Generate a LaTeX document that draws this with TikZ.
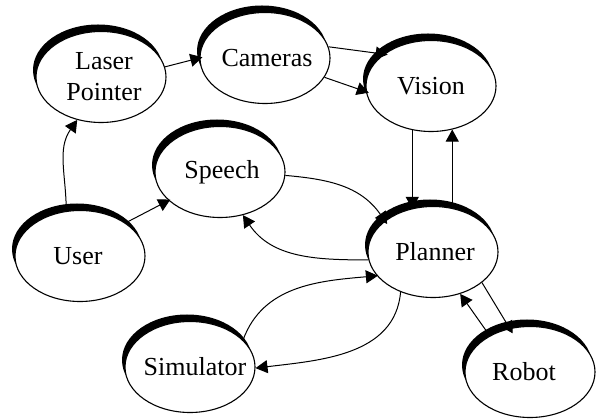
\documentclass[tikz,border=0pt]{standalone}
\usepackage{fontspec}
\setmainfont{Liberation Serif}
\usetikzlibrary{arrows.meta,shapes.geometric,shadows}
\begin{document}
\begin{tikzpicture}[x=1pt,y=-1pt,
  state/.style={ellipse, draw, line width=1.1pt, fill=white,
    minimum width=130pt, minimum height=91pt, inner sep=0pt,
    general shadow={fill=black, shadow xshift=-3pt, shadow yshift=7pt}},
  tag/.style={font=\fontsize{26}{31}\selectfont, align=center},
  link/.style={line width=1pt, -{Triangle[length=12pt,width=13pt]}},
  reach/.style={shorten >=-#1}]
\useasboundingbox (0,0) rectangle (597,419);

% modules
\node[state, label={[tag,xshift=3pt]center:Laser\\Pointer}] (lp) at (101,77) {};
\node[state, label={[tag,xshift=2pt]center:Cameras}] (cam)  at (265,58)  {};
\node[state, label={[tag]center:Vision}]             (vis)  at (431,86)  {};
\node[state, label={[tag,xshift=2pt]center:Speech}]  (sp)   at (220,172) {};
\node[state, label={[tag,xshift=-2pt]center:User}]   (user) at (80,256)  {};
\node[state, label={[tag,xshift=2pt]center:Planner}] (pl)   at (433,252) {};
\node[state, label={[tag,xshift=5pt]center:Simulator}] (sim) at (190,367) {};
\node[state, label={[tag,xshift=-6pt]center:Robot}]  (rob)  at (530,372) {};

% data flow
\draw[link] (user.107) to[out=90,in=235] (lp.-119);
\draw[link, reach=3pt] (lp.9) -- (cam.180);
\draw[link, reach=4pt] (cam.10) -- (vis.146);
\draw[link, reach=3pt] (cam.-18) -- (vis.185);
\draw[link, reach=3pt] (vis.-113) -- (vis.-113 |- pl.north);
\draw[link] (pl.north -| vis.-64) -- (vis.-64);
\draw[link, reach=2pt] (user.36) -- (sp.-151);
\draw[link, reach=4pt] (sp.-3) to[out=-5,in=125] (pl.147);
\draw[link] (pl.187) to[out=180,in=-56] (sp.-62);
\draw[link, reach=1pt] (sim.27) to[out=70,in=185] (pl.-157);
\draw[link] (pl.-129) to[out=-95,in=7] (sim.-1);
\draw[link, reach=6pt] (pl.-32) -- (rob.115);
\draw[link] (rob.138) -- (pl.-57);
\end{tikzpicture}
\end{document}
